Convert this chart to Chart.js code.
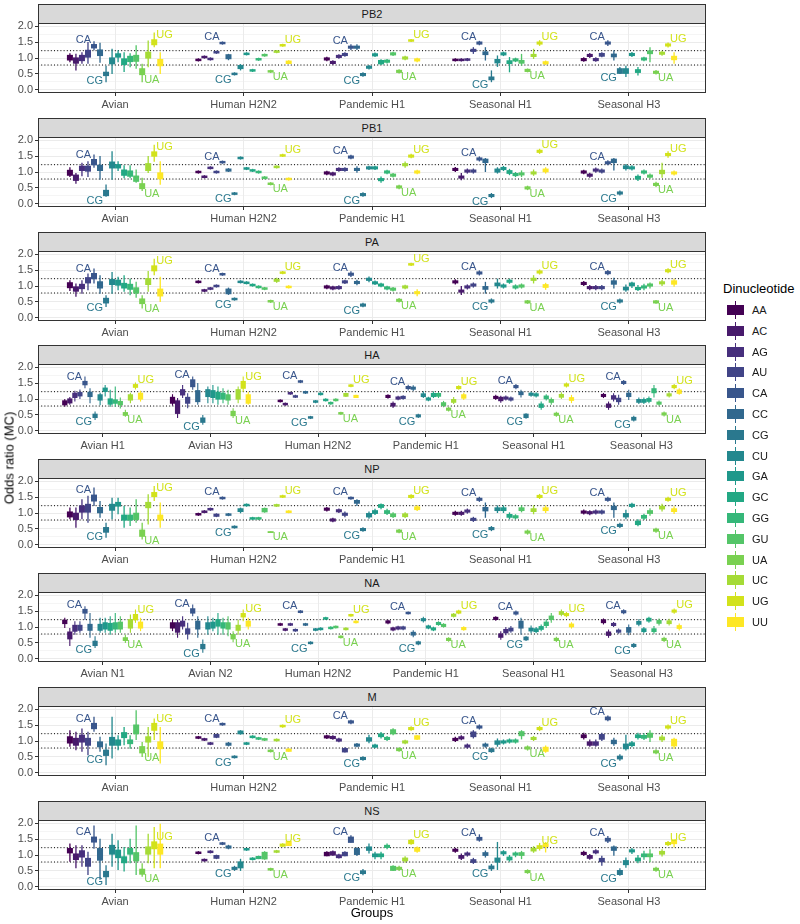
<!DOCTYPE html>
<html><head><meta charset="utf-8">
<script src="https://cdn.jsdelivr.net/npm/chart.js@4.4.1/dist/chart.umd.min.js"></script>
<style>
body{margin:0;background:#fff;font-family:"Liberation Sans",Arial,Helvetica,sans-serif;}
#wrap{position:relative;width:800px;height:924px;overflow:hidden;background:#fff;}
canvas{position:absolute;left:0;}
.strip{position:absolute;left:38px;width:668px;height:20px;background:#d9d9d9;border:1px solid #333;box-sizing:border-box;font-size:11px;color:#1a1a1a;text-align:center;line-height:18px;}
.ytitle{position:absolute;left:9px;top:458px;transform:translate(-50%,-50%) rotate(-90deg);font-size:13px;color:#000;white-space:nowrap;}
.xtitle{position:absolute;left:372px;top:912px;transform:translate(-50%,-50%);font-size:13px;color:#000;white-space:nowrap;}
.ltitle{position:absolute;left:723px;top:281px;font-size:13px;color:#000;white-space:nowrap;}
.lrow{position:absolute;left:727px;height:18px;width:70px;}
.lkey{position:absolute;left:0;top:0;width:17px;height:18px;}
.lline{position:absolute;left:8px;top:0;width:1px;height:18px;}
.lbox{position:absolute;left:0;top:4px;width:17px;height:10px;}
.llab{position:absolute;left:25px;top:0;line-height:18px;font-size:11px;color:#1a1a1a;}
</style></head>
<body><div id="wrap"></div>
<script>
// ---------- categories ----------
const dinucs = ['AA','AC','AG','AU','CA','CC','CG','CU','GA','GC','GG','GU','UA','UC','UG','UU'];
const colors = ['#440154','#481A6C','#472F7D','#414487','#39568C','#31688E','#2A788E','#23888E','#1F988B','#22A884','#35B779','#54C568','#7AD151','#A5DB36','#D2E21B','#FDE725'];
const groups5 = ['Avian','Human H2N2','Pandemic H1','Seasonal H1','Seasonal H3'];
const groupsHA = ['Avian H1','Avian H3','Human H2N2','Pandemic H1','Seasonal H1','Seasonal H3'];
const groupsNA = ['Avian N1','Avian N2','Human H2N2','Pandemic H1','Seasonal H1','Seasonal H3'];
const segments = ['PB2','PB1','PA','HA','NP','NA','M','NS'];
const yTicks = [0,0.25,0.5,0.75,1,1.25,1.5,1.75,2];
const refLines = [0.78,1.23];
const labelled = [['CA','ul'],['CG','ll'],['UA','lr'],['UG','ur']];

// ---------- values: per dinucleotide [lower whisker, Q1, Q3, upper whisker] ----------
const pb2_avian=[[0.87,0.94,1.08,1.15],[0.61,0.84,1.0,1.13],[0.82,0.92,1.08,1.18],[0.82,1.03,1.24,1.5],[1.24,1.32,1.42,1.53],[0.85,1.08,1.25,1.48],[0.24,0.45,0.55,0.76],[0.5,0.82,1.0,1.29],[0.87,1.03,1.13,1.24],[0.56,0.8,0.97,1.18],[0.71,0.89,1.05,1.15],[0.66,0.9,1.08,1.4],[0.24,0.48,0.66,0.82],[0.71,1.0,1.18,1.55],[1.34,1.42,1.57,1.8],[0.5,0.76,0.95,1.18]];
const pb2_h2n2=[[0.89,0.92,0.96,0.99],[0.98,1.01,1.05,1.08],[0.92,0.95,0.99,1.02],[1.13,1.16,1.2,1.23],[1.42,1.45,1.49,1.52],[0.93,0.98,1.1,1.13],[0.45,0.48,0.52,0.55],[0.61,0.67,0.76,0.81],[1.08,1.11,1.15,1.18],[0.56,0.59,0.63,0.66],[0.91,0.94,0.98,1.01],[1.04,1.07,1.11,1.14],[0.53,0.56,0.6,0.63],[1.15,1.18,1.22,1.25],[1.35,1.38,1.42,1.45],[0.81,0.83,0.9,0.93]];
const pb2_pdm=[[0.9,0.94,1.0,1.04],[0.79,0.83,0.89,0.93],[0.98,1.02,1.08,1.12],[1.04,1.08,1.14,1.18],[1.25,1.31,1.37,1.43],[1.25,1.31,1.37,1.43],[0.41,0.45,0.51,0.55],[0.64,0.68,0.74,0.78],[1.03,1.07,1.13,1.17],[0.78,0.82,0.92,0.96],[0.83,0.87,0.93,0.97],[1.06,1.1,1.16,1.2],[0.51,0.55,0.61,0.65],[0.93,0.97,1.03,1.07],[1.5,1.53,1.57,1.6],[0.87,0.91,0.97,1.01]];
const pb2_sh1=[[0.89,0.92,0.96,0.99],[0.89,0.92,0.96,0.99],[0.9,0.93,0.97,1.0],[1.13,1.21,1.27,1.34],[1.4,1.44,1.5,1.54],[0.92,1.11,1.19,1.34],[0.24,0.32,0.4,0.61],[0.72,0.85,0.95,1.08],[1.06,1.1,1.16,1.2],[0.55,0.83,0.91,1.03],[0.87,0.91,0.97,1.01],[0.76,0.84,0.92,1.13],[0.55,0.58,0.64,0.67],[0.97,1.05,1.11,1.29],[1.38,1.44,1.5,1.56],[0.78,0.82,0.88,0.92]];
const pb2_sh3=[[0.88,0.92,0.98,1.02],[1.0,1.05,1.11,1.16],[0.88,0.92,0.98,1.02],[1.02,1.06,1.14,1.18],[1.38,1.44,1.5,1.56],[0.92,1.04,1.12,1.24],[0.5,0.52,0.66,0.72],[0.4,0.52,0.66,0.76],[1.03,1.08,1.14,1.19],[0.45,0.55,0.63,0.72],[0.9,0.94,1.0,1.04],[0.87,1.14,1.22,1.34],[0.48,0.52,0.58,0.62],[1.07,1.12,1.18,1.23],[1.33,1.38,1.44,1.49],[0.82,0.95,1.05,1.18]];

const pb1_avian=[[0.84,0.9,1.05,1.15],[0.63,0.74,0.9,0.97],[0.87,1.05,1.18,1.29],[0.84,1.03,1.18,1.34],[1.13,1.23,1.39,1.55],[0.76,1.05,1.21,1.5],[0.22,0.26,0.42,0.61],[0.76,1.13,1.31,1.65],[1.03,1.13,1.23,1.34],[0.8,0.9,1.06,1.21],[0.8,0.87,1.03,1.21],[0.66,0.71,0.87,1.08],[0.4,0.48,0.63,0.82],[0.97,1.05,1.26,1.5],[1.32,1.5,1.63,1.86],[0.6,0.79,0.97,1.34]];
const pb1_h2n2=[[0.95,0.98,1.02,1.05],[0.8,0.83,0.87,0.9],[1.08,1.11,1.15,1.18],[0.95,0.98,1.02,1.05],[1.26,1.29,1.33,1.36],[1.0,1.03,1.09,1.12],[0.27,0.3,0.34,0.37],[1.39,1.42,1.46,1.49],[1.06,1.09,1.13,1.16],[1.0,1.03,1.07,1.1],[0.95,0.98,1.02,1.05],[0.77,0.8,0.84,0.87],[0.58,0.61,0.65,0.68],[1.11,1.14,1.18,1.21],[1.47,1.5,1.54,1.57],[0.73,0.76,0.8,0.83]];
const pb1_pdm=[[0.9,0.94,1.0,1.04],[0.87,0.91,0.97,1.01],[1.01,1.05,1.11,1.15],[1.01,1.05,1.11,1.15],[1.4,1.44,1.5,1.54],[0.98,1.05,1.11,1.18],[0.22,0.26,0.32,0.36],[1.06,1.1,1.16,1.2],[1.06,1.1,1.16,1.2],[0.66,0.73,0.79,0.86],[0.93,0.97,1.03,1.07],[0.83,0.87,0.93,0.97],[0.46,0.5,0.56,0.6],[1.13,1.2,1.26,1.33],[1.43,1.47,1.53,1.57],[0.93,0.97,1.03,1.07]];
const pb1_sh1=[[1.0,1.05,1.11,1.16],[0.74,0.81,0.87,0.97],[0.95,1.0,1.06,1.11],[0.95,1.0,1.06,1.11],[1.33,1.38,1.44,1.49],[1.0,1.3,1.4,1.44],[0.18,0.23,0.29,0.34],[0.95,1.0,1.09,1.15],[1.03,1.08,1.14,1.19],[0.9,0.96,1.04,1.1],[0.84,0.89,0.95,1.0],[0.84,0.91,0.97,1.05],[0.43,0.47,0.53,0.57],[0.88,0.94,1.0,1.08],[1.57,1.62,1.68,1.73],[0.95,1.01,1.09,1.15]];
const pb1_sh3=[[0.93,0.97,1.03,1.07],[0.82,0.87,0.93,0.98],[0.98,1.03,1.09,1.14],[0.95,1.0,1.06,1.11],[1.21,1.26,1.32,1.37],[1.05,1.3,1.4,1.44],[0.26,0.31,0.37,0.42],[1.05,1.11,1.19,1.25],[1.05,1.1,1.16,1.21],[0.72,0.78,0.86,0.92],[0.92,0.97,1.03,1.08],[0.79,0.84,0.9,0.95],[0.53,0.58,0.64,0.69],[0.82,0.95,1.05,1.29],[1.45,1.52,1.58,1.65],[0.89,0.94,1.0,1.05]];

const pa_avian=[[0.84,0.95,1.1,1.18],[0.66,0.84,0.97,1.08],[0.76,0.92,1.05,1.18],[0.87,1.1,1.26,1.39],[1.08,1.23,1.39,1.55],[0.76,0.94,1.13,1.34],[0.34,0.47,0.61,0.71],[0.76,1.05,1.2,1.44],[0.87,1.03,1.18,1.29],[0.82,0.94,1.08,1.34],[0.71,0.9,1.05,1.23],[0.63,0.78,0.94,1.13],[0.29,0.45,0.59,0.71],[0.82,1.05,1.23,1.47],[1.34,1.48,1.63,1.86],[0.5,0.69,0.9,1.29]];
const pa_h2n2=[[1.08,1.11,1.15,1.18],[0.81,0.84,0.88,0.91],[0.87,0.9,0.94,0.97],[0.95,0.98,1.02,1.05],[1.32,1.35,1.39,1.42],[0.72,0.76,0.9,0.95],[0.54,0.57,0.61,0.64],[1.08,1.11,1.15,1.18],[1.05,1.08,1.12,1.15],[0.98,1.01,1.05,1.08],[0.92,0.95,0.99,1.02],[0.87,0.9,0.94,0.97],[0.47,0.5,0.54,0.57],[1.1,1.15,1.21,1.26],[1.37,1.4,1.44,1.47],[0.92,0.95,0.99,1.02]];
const pa_pdm=[[0.9,0.94,1.0,1.04],[0.87,0.91,0.97,1.01],[0.88,0.92,0.98,1.02],[1.06,1.1,1.16,1.2],[1.28,1.34,1.4,1.46],[1.02,1.08,1.14,1.2],[0.33,0.37,0.43,0.47],[1.12,1.18,1.24,1.3],[1.03,1.07,1.13,1.17],[0.96,1.0,1.06,1.1],[0.87,0.91,0.97,1.01],[0.83,0.87,0.93,0.97],[0.48,0.52,0.58,0.62],[0.9,0.94,1.0,1.04],[1.63,1.66,1.7,1.73],[0.68,0.76,0.82,0.9]];
const pa_sh1=[[1.05,1.1,1.16,1.21],[0.72,0.81,0.87,1.0],[0.89,0.94,1.0,1.05],[0.95,1.0,1.06,1.11],[1.33,1.38,1.44,1.49],[0.76,0.9,0.98,1.13],[0.45,0.5,0.56,0.61],[0.92,1.01,1.09,1.23],[0.92,0.97,1.03,1.08],[1.07,1.12,1.18,1.23],[0.89,0.94,1.0,1.05],[0.92,0.97,1.03,1.08],[0.44,0.47,0.53,0.56],[1.08,1.18,1.24,1.34],[1.36,1.41,1.47,1.52],[0.88,0.96,1.04,1.1]];
const pa_sh3=[[1.0,1.05,1.11,1.16],[0.87,0.92,0.98,1.03],[0.87,0.92,0.98,1.03],[0.87,0.92,0.98,1.03],[1.34,1.39,1.45,1.5],[0.92,1.06,1.16,1.26],[0.45,0.5,0.56,0.61],[0.82,0.88,0.96,1.05],[0.94,1.01,1.09,1.13],[0.84,0.89,0.95,1.03],[0.87,0.94,1.0,1.07],[0.92,1.0,1.06,1.11],[0.44,0.47,0.53,0.56],[1.0,1.07,1.13,1.2],[1.4,1.45,1.51,1.56],[0.98,1.06,1.16,1.23]];

const ha_avh1=[[0.76,0.82,0.94,1.0],[0.82,0.88,1.0,1.06],[0.92,1.05,1.18,1.26],[1.0,1.1,1.2,1.3],[1.34,1.45,1.55,1.71],[0.87,1.08,1.21,1.34],[0.34,0.42,0.52,0.61],[0.8,0.97,1.13,1.2],[1.08,1.24,1.34,1.44],[0.76,0.84,1.0,1.29],[0.76,0.87,0.97,1.39],[0.7,0.82,0.92,1.05],[0.44,0.49,0.57,0.66],[0.87,0.97,1.13,1.2],[1.3,1.37,1.45,1.52],[0.92,1.0,1.18,1.26]];
const ha_avh3=[[0.79,0.87,1.05,1.15],[0.4,0.55,0.94,1.03],[1.03,1.13,1.29,1.44],[0.71,0.87,1.05,1.18],[1.29,1.39,1.6,1.71],[0.82,0.92,1.26,1.5],[0.19,0.27,0.4,0.5],[0.87,1.08,1.29,1.39],[0.87,1.05,1.26,1.44],[0.82,1.0,1.21,1.39],[0.87,1.0,1.18,1.34],[0.82,0.97,1.13,1.29],[0.4,0.48,0.61,0.71],[0.87,1.0,1.29,1.39],[1.23,1.34,1.55,1.71],[0.82,0.87,1.13,1.23]];
const ha_h2n2=[[0.89,0.92,0.96,0.99],[0.79,0.82,0.86,0.89],[1.13,1.16,1.2,1.23],[1.03,1.06,1.1,1.13],[1.5,1.53,1.57,1.6],[1.16,1.19,1.23,1.26],[0.37,0.4,0.44,0.47],[0.87,0.9,0.94,0.97],[1.11,1.14,1.18,1.21],[0.92,0.95,0.99,1.02],[0.82,0.85,0.89,0.92],[0.92,0.95,0.99,1.02],[0.5,0.53,0.57,0.6],[1.06,1.09,1.17,1.2],[1.37,1.4,1.44,1.47],[1.03,1.05,1.11,1.13]];
const ha_pdm=[[1.01,1.05,1.11,1.15],[0.72,0.78,0.86,0.92],[0.96,1.0,1.06,1.1],[0.98,1.02,1.08,1.12],[1.27,1.33,1.39,1.45],[1.25,1.31,1.37,1.43],[0.4,0.44,0.5,0.54],[1.03,1.08,1.16,1.24],[0.93,0.97,1.03,1.07],[1.03,1.08,1.17,1.24],[1.03,1.09,1.17,1.22],[0.74,0.8,0.88,0.94],[0.61,0.65,0.71,0.75],[0.84,0.9,0.98,1.06],[1.29,1.33,1.39,1.43],[0.97,1.03,1.13,1.2]];
const ha_sh1=[[0.97,1.02,1.08,1.13],[0.88,0.95,1.05,1.1],[0.95,1.0,1.06,1.11],[0.92,0.97,1.03,1.08],[1.31,1.36,1.42,1.47],[1.05,1.14,1.22,1.29],[0.38,0.42,0.52,0.55],[1.07,1.12,1.18,1.23],[1.05,1.1,1.16,1.21],[0.66,0.74,0.84,0.92],[0.95,1.01,1.09,1.15],[0.82,0.9,0.98,1.05],[0.44,0.49,0.55,0.6],[1.0,1.06,1.14,1.21],[1.36,1.41,1.47,1.52],[0.87,0.96,1.04,1.13]];
const ha_sh3=[[1.03,1.08,1.14,1.19],[0.66,0.74,0.84,0.92],[0.92,1.0,1.1,1.18],[0.82,0.92,1.02,1.13],[1.44,1.49,1.55,1.6],[0.97,1.08,1.18,1.29],[0.29,0.34,0.42,0.47],[0.84,0.9,0.98,1.05],[0.84,0.9,0.98,1.05],[0.87,0.93,1.01,1.08],[1.05,1.2,1.32,1.44],[0.79,0.84,0.9,0.95],[0.45,0.5,0.56,0.61],[1.05,1.1,1.16,1.21],[1.31,1.36,1.42,1.47],[1.13,1.18,1.28,1.34]];

const np_avian=[[0.8,0.88,1.03,1.17],[0.54,0.8,0.99,1.17],[0.8,1.03,1.22,1.43],[0.69,1.03,1.27,1.54],[1.22,1.38,1.56,1.8],[0.85,1.01,1.17,1.38],[0.22,0.4,0.54,0.69],[0.8,1.09,1.27,1.48],[0.96,1.22,1.33,1.48],[0.54,0.78,0.93,1.22],[0.59,0.78,0.93,1.17],[0.69,0.8,0.99,1.43],[0.17,0.27,0.46,0.69],[0.64,1.17,1.33,1.59],[1.38,1.52,1.64,1.85],[0.54,0.78,0.93,1.33]];
const np_h2n2=[[0.91,0.94,0.98,1.01],[0.99,1.02,1.06,1.09],[1.07,1.1,1.14,1.17],[0.87,0.9,0.96,0.99],[1.42,1.45,1.49,1.52],[0.9,0.93,0.97,1.0],[0.51,0.54,0.58,0.61],[0.99,1.05,1.13,1.17],[1.2,1.23,1.27,1.3],[0.78,0.81,0.85,0.88],[0.78,0.81,0.85,0.88],[1.01,1.04,1.14,1.17],[0.38,0.39,0.41,0.42],[1.19,1.22,1.26,1.29],[1.47,1.5,1.54,1.57],[0.99,1.02,1.06,1.09]];
const np_pdm=[[1.05,1.09,1.15,1.19],[0.71,0.75,0.81,0.85],[1.0,1.04,1.1,1.14],[0.87,0.93,0.99,1.05],[1.42,1.45,1.49,1.52],[1.22,1.31,1.39,1.43],[0.41,0.45,0.51,0.55],[0.82,0.88,0.98,1.05],[0.94,0.99,1.07,1.13],[1.12,1.18,1.26,1.3],[0.94,0.99,1.07,1.13],[0.84,0.89,0.97,1.02],[0.36,0.4,0.46,0.5],[0.84,0.89,0.97,1.02],[1.45,1.49,1.55,1.59],[1.06,1.11,1.19,1.24]];
const np_sh1=[[0.91,0.96,1.02,1.07],[0.91,0.96,1.02,1.07],[0.98,1.03,1.09,1.14],[0.72,0.77,0.83,0.88],[1.35,1.4,1.46,1.51],[0.85,1.07,1.17,1.33],[0.43,0.48,0.54,0.59],[1.0,1.08,1.16,1.24],[1.0,1.08,1.16,1.24],[0.8,0.87,0.95,1.02],[0.8,0.85,0.91,0.96],[1.02,1.08,1.16,1.24],[0.32,0.37,0.43,0.48],[0.96,1.05,1.13,1.24],[1.44,1.49,1.55,1.6],[1.0,1.08,1.16,1.24]];
const np_sh3=[[0.95,1.0,1.06,1.11],[0.93,0.98,1.04,1.09],[0.95,1.0,1.06,1.11],[0.95,1.0,1.06,1.11],[1.35,1.4,1.46,1.51],[0.85,1.11,1.21,1.33],[0.53,0.58,0.64,0.69],[0.8,0.88,0.98,1.1],[1.16,1.21,1.27,1.32],[0.58,0.64,0.74,0.8],[0.78,0.84,0.92,0.98],[0.91,0.99,1.07,1.15],[0.38,0.43,0.49,0.54],[1.05,1.13,1.21,1.29],[1.35,1.4,1.46,1.51],[0.97,1.05,1.13,1.21]];

const na_avn1=[[0.97,1.11,1.21,1.29],[0.4,0.63,0.84,0.97],[0.76,0.87,1.05,1.18],[0.82,0.9,1.05,1.18],[1.23,1.44,1.55,1.65],[0.66,0.9,1.08,1.44],[0.34,0.42,0.55,0.71],[0.82,0.9,1.08,1.29],[0.82,0.94,1.13,1.29],[0.76,0.9,1.11,1.34],[0.82,0.94,1.13,1.44],[0.82,0.94,1.15,1.34],[0.5,0.58,0.66,0.76],[0.82,0.97,1.23,1.39],[1.13,1.23,1.39,1.55],[0.87,0.97,1.15,1.29]];
const na_avn2=[[0.87,0.97,1.13,1.23],[0.66,0.84,1.13,1.23],[0.92,1.03,1.18,1.34],[0.61,0.79,0.94,1.13],[1.34,1.44,1.57,1.71],[0.66,0.94,1.18,1.34],[0.19,0.32,0.45,0.61],[0.76,0.94,1.13,1.34],[0.87,0.97,1.15,1.29],[0.76,1.03,1.23,1.44],[0.76,0.97,1.13,1.29],[0.71,0.94,1.13,1.34],[0.52,0.63,0.76,0.87],[0.76,0.9,1.05,1.23],[1.18,1.32,1.42,1.55],[0.92,1.03,1.18,1.29]];
const na_h2n2=[[1.03,1.06,1.1,1.13],[0.87,0.9,0.94,0.97],[1.03,1.06,1.1,1.13],[0.85,0.88,0.92,0.95],[1.43,1.46,1.5,1.53],[1.03,1.06,1.1,1.13],[0.45,0.48,0.52,0.55],[0.87,0.9,0.94,0.97],[0.89,0.92,0.96,0.99],[1.22,1.25,1.29,1.32],[0.92,0.95,0.99,1.02],[0.95,0.98,1.02,1.05],[0.64,0.67,0.71,0.74],[0.89,0.92,0.96,0.99],[1.32,1.35,1.39,1.42],[1.11,1.14,1.18,1.21]];
const na_pdm=[[1.09,1.13,1.19,1.23],[0.87,0.91,0.97,1.01],[0.9,0.94,1.0,1.04],[0.9,0.94,1.0,1.04],[1.39,1.42,1.46,1.49],[0.68,0.75,0.83,0.9],[0.43,0.47,0.53,0.57],[1.14,1.2,1.26,1.32],[0.93,0.97,1.03,1.07],[0.87,0.91,0.97,1.01],[1.04,1.08,1.14,1.18],[0.98,1.02,1.08,1.12],[0.54,0.58,0.64,0.68],[1.3,1.34,1.4,1.44],[1.4,1.44,1.5,1.54],[0.88,0.92,0.98,1.02]];
const na_sh1=[[1.2,1.24,1.3,1.34],[0.6,0.68,0.78,0.87],[0.74,0.82,0.92,1.0],[0.82,0.88,0.96,1.03],[1.36,1.41,1.47,1.52],[0.76,0.97,1.18,1.29],[0.56,0.6,0.68,0.72],[0.8,0.88,0.96,1.05],[0.8,0.86,0.94,1.0],[0.87,0.93,1.01,1.08],[0.97,1.05,1.15,1.24],[1.13,1.24,1.34,1.44],[0.53,0.58,0.64,0.69],[1.34,1.4,1.48,1.55],[1.31,1.36,1.42,1.47],[0.95,1.01,1.09,1.15]];
const na_sh3=[[1.08,1.14,1.22,1.27],[0.66,0.74,0.84,0.92],[1.0,1.05,1.11,1.16],[0.79,0.84,0.9,0.95],[1.4,1.45,1.51,1.56],[0.74,0.84,0.98,1.08],[0.34,0.39,0.45,0.5],[1.02,1.09,1.17,1.24],[0.8,0.86,0.94,1.0],[1.13,1.19,1.27,1.32],[0.79,0.86,0.94,1.03],[1.05,1.12,1.2,1.27],[0.53,0.58,0.64,0.69],[1.05,1.11,1.19,1.26],[1.42,1.47,1.53,1.58],[0.89,0.96,1.04,1.11]];

const m_avian=[[0.82,0.94,1.13,1.34],[0.71,0.87,1.08,1.29],[0.66,0.97,1.18,1.39],[0.55,0.87,1.08,1.29],[1.29,1.39,1.55,1.76],[0.66,0.82,0.97,1.13],[0.24,0.55,0.71,0.92],[0.45,0.87,1.11,1.76],[0.71,0.87,1.03,1.18],[0.87,1.11,1.26,1.44],[0.76,0.92,1.03,1.18],[1.03,1.23,1.5,1.97],[0.5,0.63,0.82,0.97],[0.5,0.97,1.13,1.44],[1.03,1.34,1.55,1.71],[0.29,0.76,0.97,1.44]];
const m_h2n2=[[1.06,1.09,1.13,1.16],[1.0,1.03,1.07,1.1],[0.87,0.9,0.94,0.97],[1.09,1.12,1.2,1.23],[1.48,1.51,1.55,1.58],[0.83,0.87,0.93,0.97],[0.45,0.48,0.52,0.55],[1.2,1.23,1.31,1.34],[0.87,0.9,0.94,0.97],[1.08,1.11,1.15,1.18],[1.03,1.06,1.1,1.13],[1.0,1.03,1.07,1.1],[0.64,0.67,0.71,0.74],[0.98,1.01,1.05,1.08],[1.42,1.45,1.49,1.52],[0.66,0.68,0.74,0.77]];
const m_pdm=[[1.06,1.1,1.16,1.2],[1.04,1.08,1.14,1.18],[0.96,1.0,1.06,1.1],[0.64,0.66,0.76,0.8],[1.53,1.57,1.63,1.67],[0.8,0.84,0.9,0.94],[0.38,0.42,0.48,0.52],[0.93,1.0,1.1,1.2],[0.77,0.81,0.87,0.91],[1.08,1.14,1.22,1.28],[1.0,1.05,1.11,1.16],[1.18,1.23,1.35,1.4],[0.66,0.7,0.76,0.8],[0.9,0.94,1.0,1.04],[1.32,1.36,1.42,1.46],[1.03,1.06,1.16,1.19]];
const m_sh1=[[0.97,1.02,1.08,1.13],[1.02,1.07,1.13,1.18],[0.76,0.81,0.87,0.92],[1.08,1.14,1.28,1.34],[1.36,1.41,1.47,1.52],[0.79,0.84,0.9,0.95],[0.63,0.67,0.75,0.79],[0.82,0.9,1.0,1.08],[0.89,0.94,1.0,1.05],[0.92,0.97,1.03,1.08],[0.92,0.97,1.03,1.08],[1.05,1.17,1.29,1.34],[0.7,0.75,0.81,0.86],[1.0,1.05,1.11,1.16],[1.31,1.36,1.42,1.47],[0.63,0.68,0.8,0.86]];
const m_sh3=[[1.05,1.11,1.19,1.26],[0.82,0.87,0.97,1.05],[0.82,0.87,0.97,1.05],[1.0,1.06,1.2,1.26],[1.62,1.67,1.75,1.8],[0.85,0.92,1.02,1.1],[0.38,0.44,0.52,0.58],[0.7,0.76,0.9,1.2],[0.8,0.86,0.94,1.0],[1.05,1.11,1.19,1.26],[1.03,1.09,1.17,1.24],[0.97,1.12,1.24,1.34],[0.58,0.63,0.69,0.74],[0.97,1.04,1.12,1.2],[1.36,1.41,1.47,1.52],[0.76,0.85,1.05,1.1]];

const ns_avian=[[0.79,1.07,1.2,1.36],[0.58,0.86,1.03,1.31],[0.63,0.94,1.13,1.31],[0.37,0.65,0.89,1.1],[1.2,1.41,1.56,1.93],[0.22,0.84,1.2,1.51],[0.06,0.32,0.48,0.68],[0.63,1.03,1.3,1.67],[0.53,0.92,1.15,1.46],[0.48,0.76,0.94,1.25],[0.74,1.03,1.2,1.51],[0.37,0.82,1.07,1.93],[0.32,0.4,0.55,0.74],[0.74,1.03,1.25,1.67],[0.58,1.2,1.41,1.88],[0.58,1.03,1.34,1.98]];
const ns_h2n2=[[1.02,1.05,1.09,1.12],[0.79,0.82,0.86,0.89],[1.05,1.08,1.12,1.15],[0.87,0.9,0.98,1.01],[1.31,1.34,1.38,1.41],[1.18,1.22,1.28,1.32],[0.5,0.55,0.61,0.66],[0.5,0.6,0.78,0.88],[1.13,1.16,1.2,1.23],[0.83,0.86,0.9,0.93],[0.87,0.89,0.95,0.98],[0.85,0.88,1.08,1.12],[0.5,0.53,0.57,0.6],[1.06,1.09,1.13,1.16],[1.26,1.28,1.34,1.37],[1.28,1.3,1.42,1.45]];
const ns_pdm=[[0.96,0.98,1.08,1.12],[0.98,1.0,1.1,1.14],[0.89,0.92,1.0,1.04],[0.96,0.98,1.08,1.12],[1.39,1.4,1.56,1.62],[0.97,1.02,1.2,1.24],[0.36,0.42,0.5,0.56],[1.05,1.15,1.25,1.36],[0.87,0.95,1.03,1.1],[0.87,0.95,1.03,1.1],[1.18,1.24,1.3,1.36],[0.5,0.52,0.64,0.68],[0.5,0.55,0.61,0.66],[0.76,0.82,0.9,0.96],[1.32,1.36,1.46,1.5],[1.07,1.12,1.22,1.27]];
const ns_sh1=[[1.07,1.12,1.18,1.23],[0.84,0.9,0.98,1.05],[0.95,1.0,1.06,1.11],[0.72,0.77,0.85,0.91],[1.42,1.47,1.55,1.65],[0.92,0.99,1.07,1.14],[0.5,0.57,0.65,0.72],[0.53,0.78,0.9,1.41],[0.97,1.04,1.1,1.15],[0.79,0.85,0.93,1.0],[0.93,1.0,1.06,1.11],[0.87,0.99,1.07,1.13],[0.41,0.45,0.51,0.55],[1.07,1.13,1.21,1.28],[1.14,1.21,1.29,1.38],[1.08,1.27,1.35,1.41]];
const ns_sh3=[[0.97,1.02,1.08,1.13],[0.85,0.9,0.98,1.03],[1.02,1.07,1.13,1.18],[0.66,0.79,0.89,0.98],[1.38,1.44,1.52,1.6],[0.98,1.15,1.25,1.3],[0.35,0.39,0.51,0.58],[0.6,0.7,0.82,0.92],[1.03,1.1,1.16,1.22],[0.74,0.82,0.9,1.0],[0.85,0.95,1.03,1.13],[0.78,0.95,1.03,1.18],[0.47,0.52,0.58,0.63],[0.95,1.03,1.11,1.18],[1.28,1.33,1.39,1.44],[1.24,1.36,1.46,1.5]];

const segmentGroups = [groups5, groups5, groups5, groupsHA, groups5, groupsNA, groups5, groups5];
const segmentData = [
  [pb2_avian,pb2_h2n2,pb2_pdm,pb2_sh1,pb2_sh3],
  [pb1_avian,pb1_h2n2,pb1_pdm,pb1_sh1,pb1_sh3],
  [pa_avian,pa_h2n2,pa_pdm,pa_sh1,pa_sh3],
  [ha_avh1,ha_avh3,ha_h2n2,ha_pdm,ha_sh1,ha_sh3],
  [np_avian,np_h2n2,np_pdm,np_sh1,np_sh3],
  [na_avn1,na_avn2,na_h2n2,na_pdm,na_sh1,na_sh3],
  [m_avian,m_h2n2,m_pdm,m_sh1,m_sh3],
  [ns_avian,ns_h2n2,ns_pdm,ns_sh1,ns_sh3]
];

// ---------- layout / drawing ----------
const FONT = '"Liberation Sans", Arial, Helvetica, sans-serif';
Chart.defaults.font.family = FONT;
const wrap = document.getElementById('wrap');
const PAD_TOP = 10, PLOT_H = 70, XAX_H = 22;

const borderPlugin = {
  id: 'panelBorder',
  afterDraw(chart) {
    const a = chart.chartArea, c = chart.ctx;
    c.save(); c.strokeStyle = '#333'; c.lineWidth = 1;
    c.strokeRect(Math.round(a.left) + 0.5, Math.round(a.top) + 0.5, Math.round(a.right - a.left) - 1, Math.round(a.bottom - a.top) - 1);
    c.restore();
  }
};
const labelPlugin = {
  id: 'dinucLabels',
  afterDatasetsDraw(chart) {
    const c = chart.ctx;
    c.save();
    c.font = '11px ' + FONT;
    c.textBaseline = 'middle';
    labelled.forEach(([name, pos]) => {
      const di = dinucs.indexOf(name);
      const meta = chart.getDatasetMeta(di);
      c.fillStyle = colors[di];
      meta.data.forEach(el => {
        const top = Math.min(el.y, el.base), bot = Math.max(el.y, el.base);
        if (pos === 'ul') { c.textAlign = 'right'; c.fillText(name, el.x - 3, top - 5); }
        if (pos === 'll') { c.textAlign = 'right'; c.fillText(name, el.x - 3, bot + 5); }
        if (pos === 'lr') { c.textAlign = 'left'; c.fillText(name, el.x + 2, bot + 5); }
        if (pos === 'ur') { c.textAlign = 'left'; c.fillText(name, el.x + 2, top - 5); }
      });
    });
    c.restore();
  }
};

const isMajor = v => Math.abs(v * 2 - Math.round(v * 2)) < 1e-6;
const isInt = v => Math.abs(v - Math.round(v)) < 1e-6;

segments.forEach((seg, k) => {
  const plotTop = Math.round(22.7 + 113.9 * k);
  const groups = segmentGroups[k];
  const data = segmentData[k];

  const cv = document.createElement('canvas');
  cv.width = 710; cv.height = PAD_TOP + PLOT_H + XAX_H;
  cv.style.top = (plotTop - PAD_TOP) + 'px';
  cv.style.width = '710px'; cv.style.height = cv.height + 'px';
  wrap.appendChild(cv);

  const strip = document.createElement('div');
  strip.className = 'strip';
  strip.style.top = (plotTop - 19) + 'px';
  strip.textContent = seg;
  wrap.appendChild(strip);

  const datasets = [];
  dinucs.forEach((d, di) => {
    datasets.push({
      type: 'bar', label: d, stack: 's' + di, order: 1,
      data: groups.map((g, gi) => ({ x: gi, y: [data[gi][di][1], data[gi][di][2]] })),
      backgroundColor: colors[di], borderWidth: 0, borderSkipped: false, inflateAmount: 0.6,
      categoryPercentage: 0.75, barPercentage: 0.8
    });
  });
  dinucs.forEach((d, di) => {
    datasets.push({
      type: 'bar', label: d + ' whisker', stack: 's' + di, order: 2,
      data: groups.map((g, gi) => ({ x: gi, y: [data[gi][di][0], data[gi][di][3]] })),
      backgroundColor: colors[di], borderWidth: 0, borderSkipped: false, inflateAmount: 0,
      categoryPercentage: 0.75, barPercentage: 0.22
    });
  });
  refLines.forEach(r => {
    datasets.push({
      type: 'line', label: 'ref ' + r, order: 3,
      data: [{ x: -0.6, y: r }, { x: groups.length - 0.4, y: r }],
      borderColor: '#000', borderWidth: 1, borderDash: [1, 2.2], pointRadius: 0, fill: false
    });
  });

  new Chart(cv, {
    type: 'bar',
    data: { datasets },
    options: {
      responsive: false, animation: false, devicePixelRatio: 1, events: [],
      layout: { padding: { top: PAD_TOP, right: 4, left: 0, bottom: 0 } },
      plugins: { legend: { display: false }, tooltip: { enabled: false } },
      scales: {
        x: {
          type: 'linear', min: -0.6, max: groups.length - 0.4, stacked: true, offset: false,
          afterBuildTicks: a => { a.ticks = groups.map((g, i) => ({ value: i })); },
          afterFit: a => { a.height = XAX_H; a.paddingLeft = 0; a.paddingRight = 0; },
          ticks: { callback: v => isInt(v) ? (groups[Math.round(v)] || '') : '', autoSkip: false, maxRotation: 0, color: '#4d4d4d', font: { size: 11 }, padding: 2 },
          grid: {
            offset: false,
            color: c => (c.tick && isInt(c.tick.value)) ? '#ebebeb' : 'rgba(0,0,0,0)',
            lineWidth: 1,
            tickColor: c => (c.tick && isInt(c.tick.value)) ? '#333' : 'rgba(0,0,0,0)',
            tickLength: 3, drawTicks: true
          },
          border: { display: false }
        },
        y: {
          type: 'linear', min: -0.1, max: 2.1, stacked: false,
          afterBuildTicks: a => { a.ticks = yTicks.map(v => ({ value: v })); },
          afterFit: a => { a.width = 38; a.paddingTop = 0; a.paddingBottom = 0; },
          ticks: { callback: v => isMajor(v) ? v.toFixed(1) : '', autoSkip: false, color: '#4d4d4d', font: { size: 11 }, padding: 2 },
          grid: {
            offset: false,
            color: '#ebebeb',
            lineWidth: c => (c.tick && isMajor(c.tick.value)) ? 1 : 0.5,
            tickColor: c => (c.tick && isMajor(c.tick.value)) ? '#333' : 'rgba(0,0,0,0)',
            tickLength: 3, drawTicks: true
          },
          border: { display: false }
        }
      }
    },
    plugins: [borderPlugin, labelPlugin]
  });
});

// axis titles
const yt = document.createElement('div'); yt.className = 'ytitle'; yt.textContent = 'Odds ratio (MC)'; wrap.appendChild(yt);
const xt = document.createElement('div'); xt.className = 'xtitle'; xt.textContent = 'Groups'; wrap.appendChild(xt);

// legend
const lt = document.createElement('div'); lt.className = 'ltitle'; lt.textContent = 'Dinucleotide'; wrap.appendChild(lt);
dinucs.forEach((d, i) => {
  const row = document.createElement('div'); row.className = 'lrow';
  row.style.top = (310 + 20.8 * i - 9) + 'px';
  row.innerHTML = '<div class="lkey"><div class="lline" style="background:' + colors[i] + '"></div><div class="lbox" style="background:' + colors[i] + '"></div></div><div class="llab">' + d + '</div>';
  wrap.appendChild(row);
});
</script>
</body></html>
